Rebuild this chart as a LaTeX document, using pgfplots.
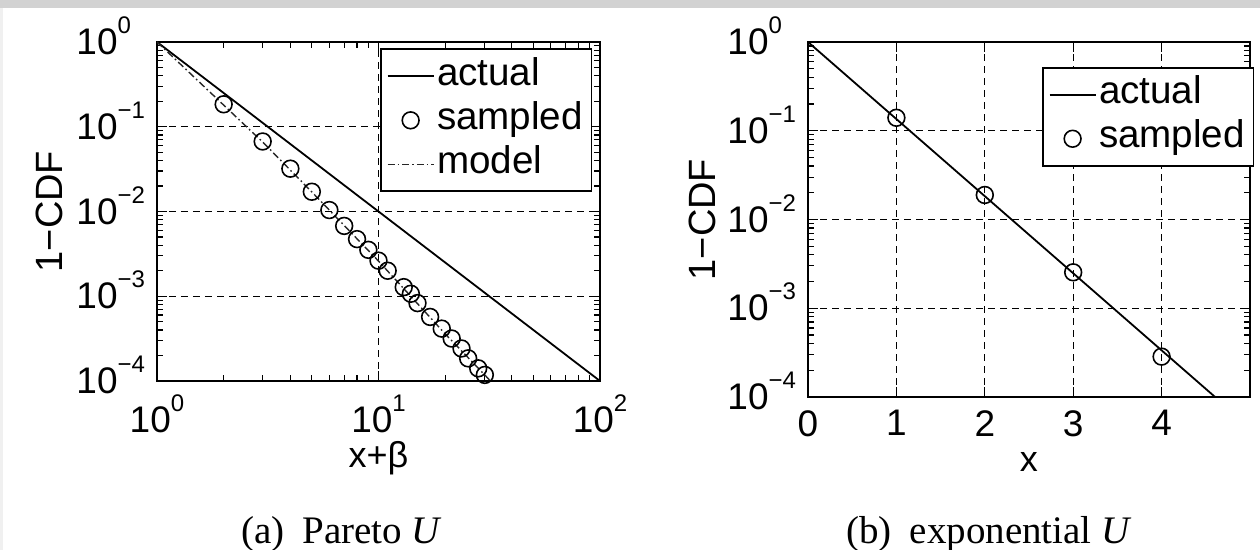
\documentclass[border=0pt]{standalone}
\usepackage{fontspec}
\setmainfont{Liberation Sans}
\newfontfamily\capfont{Liberation Serif}
\usepackage{pgfplots}
\pgfplotsset{compat=1.18}

% MATLAB-like tick labels: 10 with a raised exponent
\newcommand{\tk}{\fontsize{18.5}{18.5}\selectfont}
\newcommand{\ex}[1]{\raisebox{10.5pt}[0pt][0pt]{\fontsize{12}{12}\selectfont #1}}
\newcommand{\xl}[1]{{\tk 10\ex{#1}}}
\newcommand{\yl}[1]{{\tk 10\rlap{\ex{#1}}}}
\newcommand{\nl}[1]{{\tk #1}}

\pgfplotsset{
  matlabstyle/.style={
    scale only axis,
    axis line style={line width=1.1pt},
    tick style={black, line width=0.6pt},
    tick align=inside,
    major tick length=5pt, minor tick length=3pt,
    grid=major,
    major grid style={black, line width=0.6pt, dash pattern=on 3.5pt off 2.5pt},
    yticklabel style={anchor=east, inner sep=0pt, xshift=-19.5pt},
    ylabel style={font=\fontsize{19}{19}\selectfont},
    xlabel style={font=\fontsize{18}{18}\selectfont},
    legend cell align=left,
    legend style={font=\fontsize{19.3}{19.3}\selectfont, draw=black, line width=0.9pt,
      fill=white, inner xsep=3pt, inner ysep=2.5pt, row sep=0pt,
      nodes={inner xsep=1.25pt, inner ysep=2pt, text height=13.5pt, text depth=4.5pt}},
  },
  lineleg/.style={legend image code/.code={\draw[##1] (0pt,0pt) -- (23pt,0pt);}},
  markleg/.style={legend image code/.code={\draw[mark repeat=2, mark phase=2, ##1]
      plot coordinates {(0pt,0pt) (11.5pt,0pt) (23pt,0pt)};}},
}

\begin{document}
\begin{tikzpicture}
\path[use as bounding box] (0pt,0pt) rectangle (630pt,275pt);
\fill[gray!35] (0pt,271pt) rectangle (630pt,275pt);
\fill[gray!12] (0pt,0pt) rectangle (1.5pt,271pt);

% (a) Pareto
\begin{axis}[matlabstyle,
  at={(78.5pt,84.5pt)}, anchor=south west, width=221.5pt, height=169.5pt,
  xmode=log, ymode=log, xmin=1, xmax=100, ymin=1e-4, ymax=1,
  xtick={1,10,100}, xticklabels={\xl{0},\xl{1},\xl{2}},
  ytick={1e-4,1e-3,1e-2,1e-1,1},
  yticklabels={\yl{−4},\yl{−3},\yl{−2},\yl{−1},\yl{0}},
  xticklabel style={anchor=north, inner sep=0pt, yshift=-12.5pt},
  xlabel={x+β}, ylabel={1−CDF},
  xlabel style={at={(axis description cs:0.5,0)}, anchor=base, yshift=-43.5pt},
  ylabel style={at={(axis description cs:-0.2438,0.5)}, anchor=center},
  legend style={at={(0.503,0.981)}, anchor=north west},
]
\addplot[black, line width=0.9pt, lineleg] coordinates {(1,1) (100,1e-4)};
\addplot[black, only marks, mark=o, mark size=4.2pt, mark options={line width=0.8pt}, markleg]
  coordinates {(2,0.184) (3,0.067) (4,0.032) (5,0.0171) (6,0.0104) (7,0.00676)
    (8,0.00472) (9,0.00353) (10,0.00263) (11,0.0020) (13,0.00128) (14,0.00107)
    (15,0.00083) (17.1,0.00057) (19.3,0.000415) (21.4,0.000317) (23.7,0.000242)
    (25.4,0.000185) (28.2,0.000141) (30.2,0.000118)};
\addplot[black!85, line width=0.7pt, dash pattern=on 3.5pt off 1.5pt on 0.8pt off 1.5pt, lineleg]
  coordinates {(1,1) (2,0.18) (3,0.066) (5,0.017) (10,0.0026) (20,0.00036) (30,0.00012) (32,0.0001)};
\legend{actual, sampled, model}
\end{axis}

% (b) exponential
\begin{axis}[matlabstyle,
  at={(404pt,76.5pt)}, anchor=south west, width=221pt, height=177.5pt,
  ymode=log, xmin=0, xmax=5, ymin=1e-4, ymax=1,
  xtick={0,1,2,3,4}, xticklabels={\nl{0},\nl{1},\nl{2},\nl{3},\nl{4}},
  ytick={1e-4,1e-3,1e-2,1e-1,1},
  yticklabels={\yl{−4},\yl{−3},\yl{−2},\yl{−1},\yl{0}},
  xticklabel style={anchor=north, inner sep=0pt, yshift=-6.5pt},
  xlabel={x}, ylabel={1−CDF},
  xlabel style={at={(axis description cs:0.5,0)}, anchor=base, yshift=-37.5pt},
  ylabel style={at={(axis description cs:-0.24,0.5)}, anchor=center},
  legend style={at={(0.529,0.930)}, anchor=north west},
]
\addplot[black, line width=0.9pt, lineleg] coordinates {(0,1) (4.6052,1e-4)};
\addplot[black, only marks, mark=o, mark size=4.2pt, mark options={line width=0.8pt}, markleg]
  coordinates {(1,0.140) (2,0.0189) (3,0.00254) (4,0.000285)};
\legend{actual, sampled}
\end{axis}

\node[anchor=base, font=\capfont\fontsize{19.5}{20}\selectfont] at (170.8pt,3pt)
  {(a)\hspace{9pt}Pareto \textit{U}};
\node[anchor=base, font=\capfont\fontsize{19.5}{20}\selectfont] at (494.5pt,3pt)
  {(b)\hspace{9pt}exponential \textit{U}};
\end{tikzpicture}
\end{document}
